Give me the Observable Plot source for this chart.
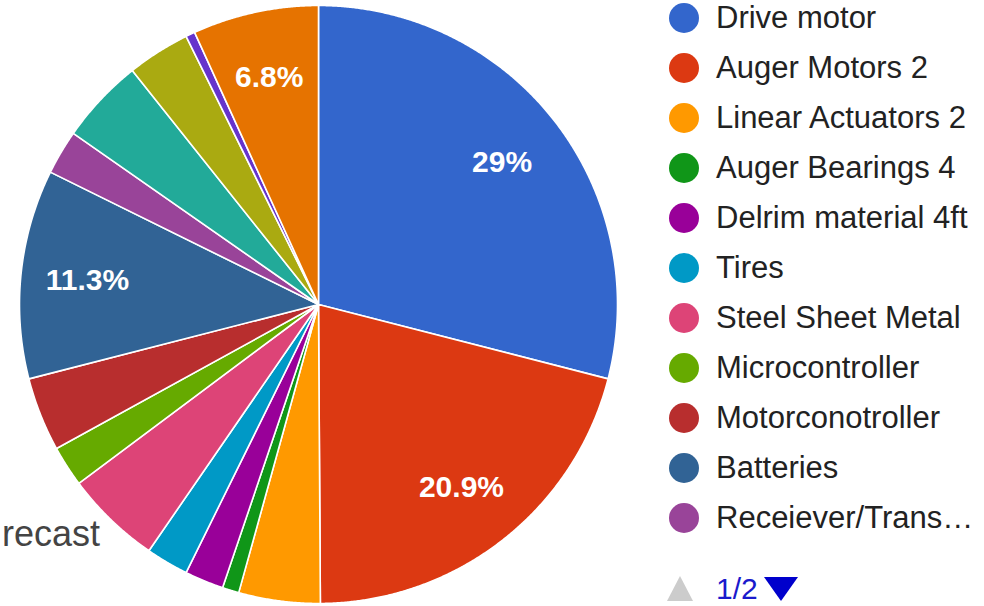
<!DOCTYPE html>
<html>
<head>
<meta charset="utf-8">
<script src="https://cdn.jsdelivr.net/npm/d3@7"></script>
<script src="https://cdn.jsdelivr.net/npm/@observablehq/plot@0.6"></script>
<style>
html, body { margin: 0; padding: 0; background: #ffffff; }
#wrap { position: relative; width: 984px; height: 606px; overflow: hidden; font-family: Arial, "Liberation Sans", sans-serif; }
#chart { position: absolute; left: 0; top: 0; }
#title { position: absolute; left: 2px; top: 514px; font-size: 36px; line-height: 40px; color: #444444; white-space: nowrap; }
.item { position: absolute; left: 669px; height: 36px; }
.dot { position: absolute; left: 0; top: 3px; width: 30px; height: 30px; border-radius: 50%; }
.lab { position: absolute; left: 47px; top: 0; font-size: 31px; line-height: 36px; color: #222222; white-space: nowrap; }
#pager { position: absolute; left: 660px; top: 570px; width: 160px; height: 36px; }
</style>
</head>
<body>
<div id="wrap">
  <div id="chart"></div>
  <div id="title"></div>
  <div id="legend"></div>
  <div id="pager"></div>
</div>
<script>
// ---- data ----
const names = [
  "Drive motor", "Auger Motors 2", "Linear Actuators 2", "Auger Bearings 4",
  "Delrim material 4ft", "Tires", "Steel Sheet Metal", "Microcontroller",
  "Motorconotroller", "Batteries", "Receiever/Transmitter",
  "Wiring", "Fasteners", "Switches", "Frame Material"
];
const shares = [29.0, 20.9, 4.4, 0.9, 2.1, 2.3, 5.2, 2.2, 4.0, 11.3, 2.4, 4.6, 3.4, 0.5, 6.8];
const colors = [
  "#3366cc", "#dc3912", "#ff9900", "#109618", "#990099", "#0099c6", "#dd4477",
  "#66aa00", "#b82e2e", "#316395", "#994499", "#22aa99", "#aaaa11", "#6633cc", "#e67300"
];
const titleText = "recast";
const legendPageText = "1/2";
const legendPageSize = 11;

// ---- build table ----
const rows = names.map((name, i) => ({name, value: shares[i]}));
const total = d3.sum(rows, d => d.value);
const arcs = d3.pie().sort(null).value(d => d.value)(rows);

const pts = [];
for (const a of arcs) {
  const n = Math.max(2, Math.ceil((a.endAngle - a.startAngle) / (Math.PI / 720)));
  pts.push({name: a.data.name, x: 0, y: 0});
  for (let k = 0; k <= n; ++k) {
    const t = a.startAngle + (a.endAngle - a.startAngle) * k / n;
    pts.push({name: a.data.name, x: Math.sin(t), y: Math.cos(t)});
  }
}

const fmt = v => {
  const p = Math.round(v / total * 1000) / 10;
  return (Number.isInteger(p) ? p.toFixed(0) : p.toFixed(1)) + "%";
};
const labels = arcs
  .filter(a => a.data.value / total >= 0.06)
  .map(a => {
    const m = (a.startAngle + a.endAngle) / 2;
    return {x: 0.777 * Math.sin(m), y: 0.777 * Math.cos(m), text: fmt(a.data.value)};
  });

const chart = Plot.plot({
  width: 984,
  height: 606,
  margin: 0,
  style: {background: "transparent", fontFamily: "Arial, 'Liberation Sans', sans-serif"},
  x: {domain: [-1, 1], range: [19, 617], axis: null},
  y: {domain: [-1, 1], range: [603, 5], axis: null},
  color: {domain: names, range: colors},
  marks: [
    Plot.line(pts, {
      x: "x", y: "y", z: "name", fill: "name",
      stroke: "white", strokeWidth: 1.6, strokeLinejoin: "round",
      curve: "linear-closed"
    }),
    Plot.text(labels, {
      x: "x", y: "y", text: "text",
      fill: "white", fontSize: 30, fontWeight: "bold"
    })
  ]
});
document.getElementById("chart").appendChild(chart);

// ---- title fragment ----
document.getElementById("title").textContent = titleText;

// ---- legend (page 1), long names shortened with an ellipsis to fit ----
const maxLabelWidth = 266;
const ctx = document.createElement("canvas").getContext("2d");
ctx.font = "31px Arial, 'Liberation Sans', sans-serif";
const fit = s => {
  if (ctx.measureText(s).width <= maxLabelWidth) return s;
  let t = s;
  while (t.length > 1 && ctx.measureText(t + "\u2026").width > maxLabelWidth) t = t.slice(0, -1);
  return t + "\u2026";
};
const legend = document.getElementById("legend");
rows.slice(0, legendPageSize).forEach((d, i) => {
  const item = document.createElement("div");
  item.className = "item";
  item.style.top = (0 + 50 * i) + "px";
  const dot = document.createElement("div");
  dot.className = "dot";
  dot.style.background = chart.scale("color").apply(d.name);
  const lab = document.createElement("div");
  lab.className = "lab";
  lab.textContent = fit(d.name);
  item.appendChild(dot);
  item.appendChild(lab);
  legend.appendChild(item);
});

// ---- pager ----
const ns = "http://www.w3.org/2000/svg";
const psvg = document.createElementNS(ns, "svg");
psvg.setAttribute("width", 160);
psvg.setAttribute("height", 36);
const up = document.createElementNS(ns, "polygon");
up.setAttribute("points", "7,31 33,31 20,6");
up.setAttribute("fill", "#cccccc");
psvg.appendChild(up);
const ptxt = document.createElementNS(ns, "text");
ptxt.setAttribute("x", 56);
ptxt.setAttribute("y", 29);
ptxt.setAttribute("font-size", 30);
ptxt.setAttribute("font-family", "Arial, 'Liberation Sans', sans-serif");
ptxt.setAttribute("fill", "#1a1acc");
ptxt.textContent = legendPageText;
psvg.appendChild(ptxt);
const down = document.createElementNS(ns, "polygon");
down.setAttribute("points", "104,7 138,7 121,31");
down.setAttribute("fill", "#0000cc");
psvg.appendChild(down);
document.getElementById("pager").appendChild(psvg);
</script>
</body>
</html>
